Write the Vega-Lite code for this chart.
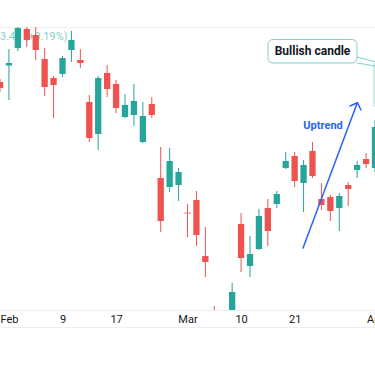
{
  "$schema": "https://vega.github.io/schema/vega-lite/v6.json",
  "width": 375,
  "height": 283,
  "autosize": {"type": "none"},
  "padding": {"top": 27, "left": 0, "right": 0, "bottom": 56},
  "background": "white",
  "config": {"view": {"stroke": null}},
  "data": {
    "values": [
      {"i": 0, "open": 124.8, "high": 125.1, "low": 123.8, "close": 124.2},
      {"i": 1, "open": 126.45, "high": 128.1, "low": 123.0, "close": 126.7},
      {"i": 2, "open": 128.2, "high": 130.6, "low": 127.9, "close": 130.2},
      {"i": 3, "open": 130.1, "high": 130.4, "low": 128.3, "close": 129.0},
      {"i": 4, "open": 129.5, "high": 130.4, "low": 127.0, "close": 128.0},
      {"i": 5, "open": 127.1, "high": 128.2, "low": 123.4, "close": 124.3},
      {"i": 6, "open": 125.2, "high": 125.4, "low": 121.2, "close": 124.5},
      {"i": 7, "open": 125.6, "high": 127.4, "low": 125.3, "close": 127.2},
      {"i": 8, "open": 128.0, "high": 129.9, "low": 126.8, "close": 129.0},
      {"i": 9, "open": 127.0, "high": 128.1, "low": 126.2, "close": 126.7},
      {"i": 10, "open": 122.8, "high": 123.5, "low": 118.8, "close": 119.2},
      {"i": 11, "open": 119.6, "high": 125.4, "low": 118.0, "close": 125.2},
      {"i": 12, "open": 125.7, "high": 126.5, "low": 123.3, "close": 124.1},
      {"i": 13, "open": 124.6, "high": 125.0, "low": 121.7, "close": 122.2},
      {"i": 14, "open": 121.3, "high": 123.6, "low": 121.2, "close": 122.5},
      {"i": 15, "open": 121.5, "high": 124.6, "low": 120.4, "close": 122.9},
      {"i": 16, "open": 118.8, "high": 122.8, "low": 118.7, "close": 121.4},
      {"i": 17, "open": 122.6, "high": 123.3, "low": 121.2, "close": 121.5},
      {"i": 18, "open": 115.2, "high": 118.3, "low": 109.8, "close": 110.9},
      {"i": 19, "open": 114.3, "high": 118.2, "low": 113.8, "close": 116.9},
      {"i": 20, "open": 114.5, "high": 116.2, "low": 112.9, "close": 115.8},
      {"i": 21, "open": 111.74, "high": 112.6, "low": 109.3, "close": 111.66},
      {"i": 22, "open": 113.0, "high": 113.9, "low": 108.4, "close": 109.5},
      {"i": 23, "open": 107.4, "high": 110.3, "low": 105.3, "close": 106.8},
      {"i": 24, "open": 101.2, "high": 102.4, "low": 99.0, "close": 99.8},
      {"i": 25, "open": 99.5, "high": 101.0, "low": 98.0, "close": 100.5},
      {"i": 26, "open": 100.8, "high": 104.7, "low": 100.4, "close": 103.8},
      {"i": 27, "open": 110.6, "high": 111.7, "low": 105.8, "close": 107.2},
      {"i": 28, "open": 106.4, "high": 109.4, "low": 105.3, "close": 107.6},
      {"i": 29, "open": 108.1, "high": 112.1, "low": 108.0, "close": 111.4},
      {"i": 30, "open": 112.2, "high": 113.1, "low": 108.4, "close": 109.9},
      {"i": 31, "open": 112.6, "high": 113.9, "low": 112.2, "close": 113.6},
      {"i": 32, "open": 116.2, "high": 117.8, "low": 116.1, "close": 116.9},
      {"i": 33, "open": 117.4, "high": 117.8, "low": 114.3, "close": 114.9},
      {"i": 34, "open": 114.7, "high": 117.0, "low": 111.8, "close": 116.5},
      {"i": 35, "open": 117.9, "high": 118.8, "low": 115.2, "close": 115.4},
      {"i": 36, "open": 113.1, "high": 114.7, "low": 112.0, "close": 112.5},
      {"i": 37, "open": 113.3, "high": 113.5, "low": 110.9, "close": 111.9},
      {"i": 38, "open": 112.2, "high": 113.7, "low": 109.9, "close": 113.4},
      {"i": 39, "open": 114.5, "high": 114.8, "low": 112.4, "close": 114.1},
      {"i": 40, "open": 116.0, "high": 116.9, "low": 115.2, "close": 116.5},
      {"i": 41, "open": 117.1, "high": 117.7, "low": 116.2, "close": 116.6},
      {"i": 42, "open": 116.2, "high": 121.0, "low": 115.8, "close": 120.3}
    ]
  },
  "layer": [
    {
      "data": {"values": [{}]},
      "mark": {"type": "text", "text": "3.45 (+0.19%)", "align": "left", "baseline": "middle", "font": "Roboto", "fontSize": 11, "color": "#26a69a", "opacity": 0.55},
      "encoding": {
        "x": {"datum": 0, "type": "quantitative"},
        "y": {"datum": 129.35, "type": "quantitative"}
      }
    },
    {
      "mark": {"type": "rule", "strokeWidth": 1, "clip": true},
      "encoding": {
        "x": {
          "field": "i", "type": "quantitative",
          "scale": {"domain": [0, 42], "nice": false, "zero": false, "padding": 0},
          "axis": {
            "title": null,
            "values": [1, 7, 13, 21, 27, 33, 42],
            "labelExpr": "datum.value == 1 ? 'Feb' : datum.value == 7 ? '9' : datum.value == 13 ? '17' : datum.value == 21 ? 'Mar' : datum.value == 27 ? '10' : datum.value == 33 ? '21' : 'Apr'",
            "grid": false, "ticks": false,
            "domainColor": "#eceef2", "offset": 17,
            "labelPadding": -8, "labelBaseline": "middle",
            "labelFlush": false, "labelOverlap": false,
            "labelFont": "Roboto", "labelFontSize": 11, "labelColor": "#131722"
          }
        },
        "y": {
          "field": "low", "type": "quantitative",
          "scale": {"domain": [102, 130.3], "nice": false, "zero": false, "padding": 0},
          "axis": {"title": null, "values": [102, 130.3], "grid": true, "gridColor": "#eceef2", "labels": false, "ticks": false, "domain": false}
        },
        "y2": {"field": "high"},
        "color": {"condition": {"test": "datum.close >= datum.open", "value": "#26a69a"}, "value": "#ef5350"}
      }
    },
    {
      "mark": {"type": "bar", "size": 6.3, "clip": true},
      "encoding": {
        "x": {"field": "i", "type": "quantitative"},
        "y": {"field": "open", "type": "quantitative"},
        "y2": {"field": "close"},
        "color": {"condition": {"test": "datum.close >= datum.open", "value": "#26a69a"}, "value": "#ef5350"}
      }
    },
    {
      "data": {"values": [{}]},
      "mark": {"type": "rule", "color": "#9fd8d4", "strokeWidth": 1},
      "encoding": {
        "x": {"datum": 41.89, "type": "quantitative"},
        "y": {"datum": 126.7, "type": "quantitative"},
        "y2": {"datum": 122.3}
      }
    },
    {
      "data": {"values": [{}]},
      "mark": {"type": "rule", "color": "#7fcfcb", "strokeWidth": 1},
      "encoding": {
        "x": {"datum": 39.98, "type": "quantitative"},
        "y": {"datum": 127.3, "type": "quantitative"},
        "x2": {"datum": 42.34},
        "y2": {"datum": 126.75}
      }
    },
    {
      "data": {"values": [{}]},
      "mark": {"type": "rule", "color": "#7fcfcb", "strokeWidth": 1},
      "encoding": {
        "x": {"datum": 39.98, "type": "quantitative"},
        "y": {"datum": 126.7, "type": "quantitative"},
        "x2": {"datum": 42.34},
        "y2": {"datum": 126.35}
      }
    },
    {
      "data": {"values": [{}]},
      "mark": {"type": "rect", "fill": "white", "stroke": "#7fcfcb", "strokeWidth": 1, "cornerRadius": 5},
      "encoding": {
        "x": {"datum": 30.02, "type": "quantitative"},
        "x2": {"datum": 39.98},
        "y": {"datum": 129.05, "type": "quantitative"},
        "y2": {"datum": 126.7}
      }
    },
    {
      "data": {"values": [{}]},
      "mark": {"type": "text", "text": "Bullish candle", "align": "center", "baseline": "middle", "font": "Roboto", "fontSize": 12, "fontWeight": "bold", "color": "#131722"},
      "encoding": {
        "x": {"datum": 35.0, "type": "quantitative"},
        "y": {"datum": 127.88, "type": "quantitative"}
      }
    },
    {
      "data": {"values": [{}]},
      "mark": {"type": "rule", "color": "#2962ff", "strokeWidth": 1.5, "strokeCap": "round"},
      "encoding": {
        "x": {"datum": 33.94, "type": "quantitative"},
        "y": {"datum": 108.2, "type": "quantitative"},
        "x2": {"datum": 40.02},
        "y2": {"datum": 122.73}
      }
    },
    {
      "data": {"values": [{}]},
      "mark": {"type": "rule", "color": "#2962ff", "strokeWidth": 1.5, "strokeCap": "round"},
      "encoding": {
        "x": {"datum": 39.2, "type": "quantitative"},
        "y": {"datum": 122.4, "type": "quantitative"},
        "x2": {"datum": 40.02},
        "y2": {"datum": 122.73}
      }
    },
    {
      "data": {"values": [{}]},
      "mark": {"type": "rule", "color": "#2962ff", "strokeWidth": 1.5, "strokeCap": "round"},
      "encoding": {
        "x": {"datum": 40.43, "type": "quantitative"},
        "y": {"datum": 122.0, "type": "quantitative"},
        "x2": {"datum": 40.02},
        "y2": {"datum": 122.73}
      }
    },
    {
      "data": {"values": [{}]},
      "mark": {"type": "text", "text": "Uptrend", "align": "center", "baseline": "middle", "font": "Roboto", "fontSize": 11, "fontWeight": "bold", "color": "#2962ff"},
      "encoding": {
        "x": {"datum": 36.18, "type": "quantitative"},
        "y": {"datum": 120.4, "type": "quantitative"}
      }
    }
  ]
}
